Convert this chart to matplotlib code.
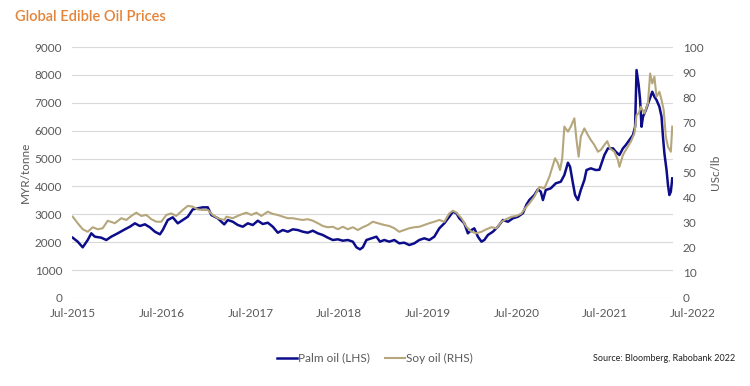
import matplotlib.pyplot as plt
import numpy as np

plt.rcParams['font.family'] = ['Lato', 'DejaVu Sans']

# months since Jul-2015, palm oil in MYR/tonne (LHS)
palm_t = [0.1, 0.8, 1.5, 2.2, 2.7, 3.2, 4.1, 4.8, 5.5, 6.4, 7.4, 8.1, 8.8, 9.5, 10.2, 10.9,
          11.6, 12.3, 12.7, 13.4, 14.1, 14.8, 15.5, 16.2, 16.9, 17.6, 18.3, 19.0, 19.5, 20.4,
          21.3, 21.8, 22.5, 23.2, 23.9, 24.6, 25.3, 26.0, 26.7, 27.4, 28.1, 28.8, 29.5, 30.2,
          30.9, 31.6, 32.3, 33.0, 33.7, 34.4, 35.1, 35.8, 36.5, 37.2, 37.9, 38.6, 39.3, 39.8,
          40.3, 40.7, 41.2, 41.9, 42.6, 43.1, 43.7, 44.4, 45.1, 45.8, 46.5, 47.2, 47.9, 48.6,
          49.3, 50.0, 50.7, 51.4, 52.1, 52.8, 53.3, 53.8, 54.2, 54.9, 55.4, 55.9, 56.3, 56.8,
          57.3, 57.7, 58.2, 58.9, 59.6, 60.3, 61.0, 61.7, 62.4, 63.1, 63.6, 64.0, 64.7, 65.2,
          65.6, 65.9, 66.3, 67.0, 67.7, 68.4, 68.9, 69.4, 69.7, 70.1, 70.4, 70.8, 71.2, 71.7,
          72.0, 72.6, 73.3, 73.8, 74.5, 75.0, 75.7, 76.1, 76.6, 77.1, 77.5, 78.0, 78.5, 78.8,
          79.0, 79.3, 79.5, 79.7, 79.9, 80.3, 80.8, 81.2, 81.5, 81.8, 82.2, 82.5, 82.7, 82.9,
          83.2, 83.4, 83.6, 83.8, 84.0]
palm = [2163, 2020, 1818, 2080, 2320, 2199, 2163, 2080, 2200, 2320, 2463, 2557, 2678, 2582, 2643, 2535,
        2378, 2284, 2438, 2797, 2894, 2678, 2797, 2915, 3180, 3216, 3252, 3252, 2976, 2858,
        2640, 2797, 2736, 2618, 2557, 2678, 2618, 2772, 2654, 2700, 2557, 2342, 2438, 2378,
        2463, 2438, 2378, 2342, 2414, 2320, 2259, 2163, 2080, 2105, 2055, 2080, 2020, 1818,
        1746, 1818, 2080, 2141, 2199, 2020, 2080, 2020, 2080, 1961, 1984, 1900, 1961, 2080,
        2141, 2080, 2199, 2499, 2678, 2915, 3095, 3037, 2858, 2678, 2320, 2438, 2499, 2199,
        2020, 2080, 2259, 2378, 2557, 2797, 2736, 2858, 2915, 3040, 3350, 3514, 3694, 3898,
        3812, 3514, 3873, 3934, 4113, 4171, 4411, 4852, 4709, 4113, 3694, 3514, 3873, 4231,
        4590, 4651, 4590, 4600, 5128, 5368, 5368, 5246, 5128, 5368, 5487, 5666, 5845, 6143,
        8176, 7638, 7100, 6143, 6502, 6742, 7100, 7398, 7219, 7100, 6860, 6502, 5784, 5189,
        4590, 4052, 3694, 3812, 4292]

# months since Jul-2015, soy oil in USc/lb (RHS)
soy_t = [0.1, 0.8, 1.5, 2.2, 2.9, 3.6, 4.3, 5.0, 6.0, 6.9, 7.6, 8.3, 9.0, 9.7, 10.4, 11.1,
         11.8, 12.5, 13.2, 13.9, 14.6, 15.5, 16.2, 16.9, 17.6, 18.3, 19.0, 19.7, 20.4, 21.3,
         21.6, 22.5, 23.5, 24.4, 25.1, 25.8, 26.5, 27.4, 28.1, 28.8, 29.5, 30.2, 30.9, 31.6,
         32.3, 33.0, 33.7, 34.4, 35.1, 35.8, 36.5, 37.2, 37.9, 38.6, 39.3, 40.0, 40.7, 41.4,
         42.1, 42.8, 43.7, 44.4, 45.1, 45.8, 46.5, 47.2, 47.9, 48.6, 49.3, 50.0, 50.7, 51.4,
         52.1, 52.8, 53.3, 53.8, 54.5, 55.2, 55.9, 56.6, 57.3, 58.0, 58.7, 59.4, 60.1, 60.8,
         61.5, 62.2, 62.9, 63.4, 64.0, 64.7, 65.4, 66.1, 66.8, 67.3, 67.6, 68.0, 68.3, 68.6,
         68.9, 69.4, 69.8, 70.3, 70.6, 70.9, 71.2, 71.7, 72.2, 72.6, 73.1, 73.6, 74.0, 74.5,
         74.9, 75.3, 75.9, 76.4, 76.6, 77.1, 77.5, 78.2, 78.7, 79.0, 79.3, 79.6, 80.1, 80.6,
         80.9, 81.2, 81.5, 81.8, 82.2, 82.5, 82.8, 83.1, 83.4, 83.8, 84.0]
soy = [32.4, 29.8, 27.4, 26.4, 28.2, 27.4, 27.8, 30.8, 29.8, 31.8, 31.1, 32.7, 34.0, 32.7, 33.1, 31.4,
       30.4, 30.4, 33.1, 33.7, 32.7, 35.1, 36.7, 36.4, 35.3, 35.1, 35.1, 33.1, 31.8, 31.1,
       32.4, 31.8, 33.1, 34.0, 33.1, 34.0, 32.7, 34.4, 33.5, 33.1, 32.4, 31.8, 31.8, 31.4,
       31.1, 31.4, 30.8, 29.8, 28.7, 28.2, 28.4, 27.4, 28.4, 27.4, 28.2, 27.1, 28.2, 29.1,
       30.4, 29.8, 29.1, 28.7, 27.8, 26.4, 27.1, 27.8, 28.2, 28.4, 29.1, 29.8, 30.4, 31.1,
       30.4, 33.7, 34.8, 34.0, 31.8, 28.4, 26.4, 25.8, 26.4, 27.4, 28.2, 27.8, 30.4, 31.5,
       32.4, 32.7, 33.7, 35.7, 37.7, 40.4, 44.3, 43.7, 48.3, 53.0, 55.7, 53.7, 51.0, 55.7,
       68.3, 66.3, 68.3, 71.6, 63.0, 56.3, 64.3, 67.6, 64.9, 63.0, 61.0, 58.3, 59.0, 61.0,
       62.5, 59.6, 58.3, 55.0, 52.3, 57.0, 59.0, 62.3, 65.6, 72.9, 73.6, 76.2, 73.6, 77.6,
       89.5, 85.5, 88.2, 80.2, 82.2, 78.9, 74.9, 64.3, 60.3, 58.3, 68.3]

tick_labels = ['Jul-2015', 'Jul-2016', 'Jul-2017', 'Jul-2018', 'Jul-2019',
               'Jul-2020', 'Jul-2021', 'Jul-2022']
tick_pos = [0.1, 12.6, 25.0, 37.4, 49.8, 62.2, 74.5, 86.9]

palm_col = '#0d0d8a'
soy_col = '#b5a67c'
txt_col = '#595959'

fig = plt.figure(figsize=(7.5, 3.86), dpi=100)
ax = fig.add_axes([0.096, 0.228, 0.8013, 0.650])
ax2 = ax.twinx()

ax.plot(palm_t, palm, color=palm_col, lw=1.8, label='Palm oil (LHS)')
ax2.plot(soy_t, soy, color=soy_col, lw=1.5, label='Soy oil (RHS)')

ax.set_xlim(0, 84.1)
ax.set_ylim(0, 9000)
ax2.set_ylim(0, 100)
ax.set_yticks(np.arange(0, 9001, 1000))
ax2.set_yticks(np.arange(0, 101, 10))
ax.set_xticks([])
ax.grid(axis='y', color='#d9d9d9', lw=0.8)
ax.set_axisbelow(True)

for a in (ax, ax2):
    for s in a.spines.values():
        s.set_visible(False)
    a.tick_params(axis='y', length=0, labelsize=8.5, colors=txt_col, pad=7)

for p, lab in zip(tick_pos, tick_labels):
    ax.text(p, -0.04, lab, transform=ax.get_xaxis_transform(), ha='center', va='top',
            fontsize=8.5, color=txt_col, clip_on=False)

ax.set_ylabel('MYR/tonne', fontsize=8.5, color=txt_col, labelpad=3)
ax2.set_ylabel('USc/lb', fontsize=8.5, color=txt_col, labelpad=5)

fig.text(0.02, 0.955, 'Global Edible Oil Prices', fontsize=10.5, color='#e4843a',
         fontweight='semibold', va='center')

h1, l1 = ax.get_legend_handles_labels()
h2, l2 = ax2.get_legend_handles_labels()
fig.legend(h1 + h2, l1 + l2, loc='center', bbox_to_anchor=(0.5, 0.072), ncol=2,
           frameon=False, fontsize=8.5, labelcolor=txt_col, handlelength=1.7,
           handletextpad=0.1, columnspacing=1.3)

fig.text(0.98, 0.072, 'Source: Bloomberg, Rabobank 2022', fontsize=6.5, color='#222222',
         ha='right', va='center')

plt.savefig('out.png', dpi=100)
plt.close()
